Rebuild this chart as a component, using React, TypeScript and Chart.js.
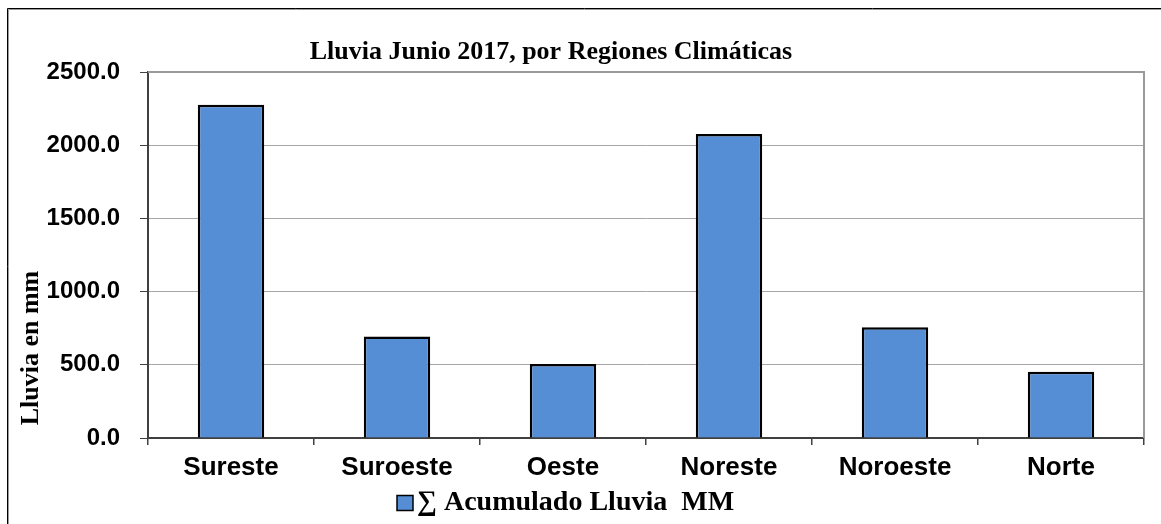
import React, { useEffect, useRef } from "react";
import { Chart, registerables } from "chart.js";

Chart.register(...registerables);

const categories = ["Sureste", "Suroeste", "Oeste", "Noreste", "Noroeste", "Norte"];
const rainValues = [2276, 693, 506, 2077, 757, 453];
const seriesLabel = "∑ Acumulado Lluvia  MM";
const chartTitle = "Lluvia Junio 2017, por Regiones Climáticas";
const yAxisTitle = "Lluvia en mm";
const yTicks = [0, 500, 1000, 1500, 2000, 2500];

const BAR_COLOR = "#558ED5";
const SERIF = "'Liberation Serif', 'Times New Roman', serif";
const SANS = "'Liberation Sans', Arial, sans-serif";

const decorPlugin = {
  id: "decor",
  beforeDraw(chart: any) {
    const ctx = chart.ctx;
    ctx.save();
    ctx.fillStyle = "#ffffff";
    ctx.fillRect(0, 0, chart.width, chart.height);
    ctx.restore();
  },
  afterDraw(chart: any) {
    const ctx = chart.ctx;
    const area = chart.chartArea;
    ctx.save();
    // outer frame
    ctx.lineWidth = 1;
    ctx.strokeStyle = "#000000";
    ctx.beginPath();
    ctx.moveTo(7.5, chart.height);
    ctx.lineTo(7.5, 8.5);
    ctx.lineTo(chart.width, 8.5);
    ctx.stroke();
    ctx.strokeStyle = "#9a9a9a";
    ctx.beginPath();
    ctx.moveTo(8.5, chart.height);
    ctx.lineTo(8.5, 9.5);
    ctx.lineTo(chart.width, 9.5);
    ctx.stroke();

    // plot area top & right border
    ctx.strokeStyle = "#999999";
    ctx.lineWidth = 2;
    ctx.beginPath();
    ctx.moveTo(area.left, area.top);
    ctx.lineTo(area.right, area.top);
    ctx.lineTo(area.right, area.bottom);
    ctx.stroke();

    // title
    ctx.fillStyle = "#000000";
    ctx.font = `bold 26px ${SERIF}`;
    ctx.textAlign = "center";
    ctx.textBaseline = "middle";
    ctx.fillText(chartTitle, 551, 52);

    // y axis title
    ctx.save();
    ctx.translate(31, 348);
    ctx.rotate(-Math.PI / 2);
    ctx.font = `bold 26px ${SERIF}`;
    ctx.textAlign = "center";
    ctx.textBaseline = "middle";
    ctx.fillText(yAxisTitle, 0, 0);
    ctx.restore();

    // legend
    const boxX = 397;
    const cy = 503;
    ctx.fillStyle = BAR_COLOR;
    ctx.fillRect(boxX, cy - 7.5, 16, 15);
    ctx.strokeStyle = "#000000";
    ctx.lineWidth = 1.5;
    ctx.strokeRect(boxX, cy - 7.5, 16, 15);
    ctx.font = `bold 28px ${SERIF}`;
    ctx.fillStyle = "#000000";
    ctx.textAlign = "left";
    ctx.textBaseline = "middle";
    ctx.fillText(seriesLabel, boxX + 20, cy);
    ctx.restore();
  },
};

export default function App() {
  const ref = useRef<HTMLCanvasElement | null>(null);

  useEffect(() => {
    if (!ref.current) return;
    const chart = new Chart(ref.current, {
      type: "bar",
      data: {
        labels: categories,
        datasets: [
          {
            label: seriesLabel,
            data: rainValues,
            backgroundColor: BAR_COLOR,
            borderColor: "#000000",
            borderWidth: 2.5,
            barPercentage: 0.4,
            categoryPercentage: 1.0,
          },
        ],
      },
      options: {
        responsive: false,
        animation: false,
        layout: { padding: { top: 72, right: 17, left: 0, bottom: 0 } },
        plugins: {
          legend: { display: false },
          title: { display: false },
          tooltip: { enabled: false },
        },
        scales: {
          x: {
            grid: {
              drawOnChartArea: false,
              drawTicks: true,
              tickLength: 7,
              tickColor: "#404040",
              lineWidth: 1.5,
            },
            border: { color: "#404040", width: 2 },
            ticks: {
              color: "#000000",
              font: { family: SANS, size: 26, weight: "bold" },
              padding: 7,
              maxRotation: 0,
            },
            afterFit: (scale: any) => {
              scale.height = 86;
            },
          },
          y: {
            min: 0,
            max: 2500,
            afterBuildTicks: (scale: any) => {
              scale.ticks = yTicks.map((v) => ({ value: v }));
            },
            grid: {
              color: "#a6a6a6",
              lineWidth: 1,
              drawTicks: true,
              tickLength: 8,
              tickColor: "#404040",
            },
            border: { color: "#404040", width: 2 },
            ticks: {
              color: "#000000",
              font: { family: SANS, size: 24, weight: "bold" },
              padding: 20,
              callback: (v: any) => Number(v).toFixed(1),
            },
            afterFit: (scale: any) => {
              scale.width = 148;
            },
          },
        },
      },
      plugins: [decorPlugin],
    });
    return () => chart.destroy();
  }, []);

  return (
    <div style={{ position: "absolute", left: 0, top: 0, width: 1161, height: 524 }}>
      <canvas ref={ref} width={1161} height={524} style={{ display: "block" }} />
    </div>
  );
}
